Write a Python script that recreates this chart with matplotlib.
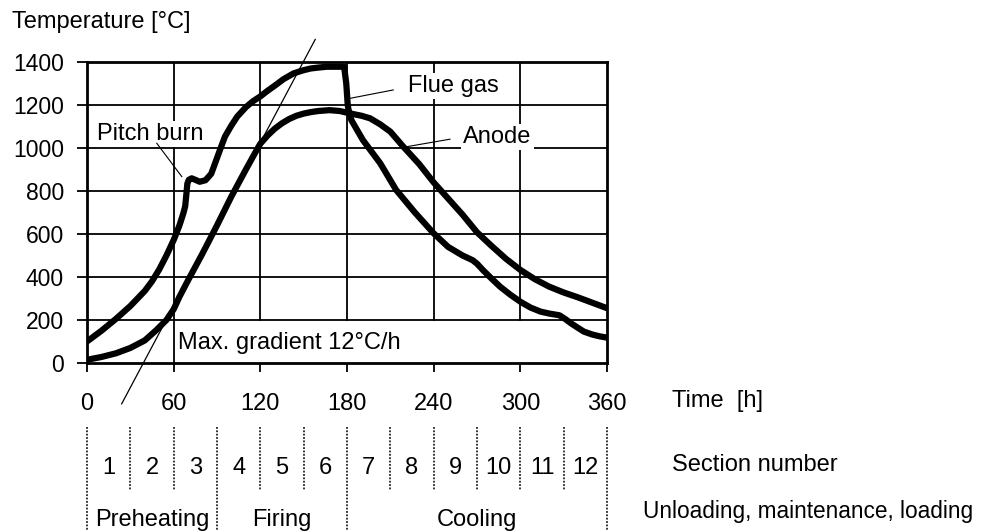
import matplotlib
matplotlib.use("Agg")
import matplotlib.pyplot as plt

plt.rcParams['font.family'] = ['Liberation Sans', 'DejaVu Sans']

# ---------------- data ----------------
flue_h = [0, 10, 20, 30, 40, 45, 50, 55, 60, 64, 66.7, 68, 69, 69.5, 70.5, 72.5, 75, 78, 82, 86,
          89, 92, 95.5, 100, 104, 110, 115, 120, 125, 130, 136, 143, 150, 155, 160, 166, 178, 179.5, 180.5, 181,
          183, 191, 203, 214, 227, 240, 250, 260, 267, 270, 274, 280, 286, 293, 300, 307,
          314, 320, 327, 331, 335, 340, 344, 350, 355, 360]
flue_T = [100, 150, 205, 265, 335, 380, 435, 500, 572, 640, 696, 730, 800, 835, 852, 859, 852, 843, 850, 880,
          935, 990, 1053, 1105, 1146, 1190, 1218, 1240, 1266, 1290, 1320, 1347, 1362, 1370, 1374, 1378, 1378, 1300, 1200, 1180,
          1130, 1037, 929, 805, 700, 603, 540, 500, 478, 462, 433, 393, 355, 318, 285, 258,
          239, 230, 222, 205, 185, 163, 146, 132, 124, 118]

anode_h = [0, 10, 20, 30, 40, 48, 55, 60, 64, 70, 80, 90, 100, 110, 117.5, 120, 125, 130, 135, 140, 145, 150,
           155, 160, 168, 175, 182, 190, 196, 203, 210, 219, 230, 240, 250, 260, 270, 280, 290,
           300, 310, 320, 330, 340, 350, 360]
anode_T = [15, 28, 45, 70, 105, 153, 200, 250, 308, 385, 510, 640, 775, 900, 991, 1020, 1058, 1090, 1115, 1135, 1150, 1160,
           1167, 1172, 1176, 1172, 1161, 1150, 1138, 1110, 1076, 1006, 925, 840, 765, 690, 608, 545, 485,
           433, 390, 355, 328, 305, 280, 255]

gradient_h = [24, 158]
gradient_T = [-190, 1505]

x_ticks = [0, 60, 120, 180, 240, 300, 360]
y_ticks = [0, 200, 400, 600, 800, 1000, 1200, 1400]

section_bounds = [0, 30, 60, 90, 120, 150, 180, 210, 240, 270, 300, 330, 360]
section_labels = ['1', '2', '3', '4', '5', '6', '7', '8', '9', '10', '11', '12']
phase_bounds = [0, 90, 180, 360]
phase_labels = ['Preheating', 'Firing', 'Cooling']

# annotations: text position and leader line ends (h, T)
ann_labels = ['Pitch burn', 'Flue gas', 'Anode']
ann_text_h = [6.7, 222.5, 260.5]
ann_text_T = [1037, 1262, 1025]
ann_lead_h0 = [48.3, 182.1, 221.3]
ann_lead_T0 = [1022, 1231, 1006]
ann_lead_h1 = [65.6, 212.0, 251.3]
ann_lead_T1 = [867, 1270, 1041]

gradient_label = 'Max. gradient 12°C/h'
gradient_label_h = 63.2
gradient_label_T = 64

# ---------------- figure ----------------
W, H = 981, 531
fig = plt.figure(figsize=(W / 100, H / 100), dpi=100)
fig.patch.set_facecolor('white')

def fx(x):
    return x / W

def fy(y):
    return 1 - y / H

L, R, T, B = 87, 607, 62, 363
ax = fig.add_axes([fx(L), fy(B), (R - L) / W, (B - T) / H])
ax.set_xlim(0, 360)
ax.set_ylim(0, 1400)

grid_lw = 1.3
for yv in y_ticks[1:-1]:
    ax.axhline(yv, color='black', lw=grid_lw, zorder=1)
for xv in x_ticks[1:-1]:
    ymin = 0 if xv == 60 else 200 / 1400
    ax.axvline(xv, ymin=ymin, ymax=1, color='black', lw=grid_lw, zorder=1)

for s in ax.spines.values():
    s.set_linewidth(2.0)

ax.set_xticks(x_ticks)
ax.set_xticklabels([str(v) for v in x_ticks], fontsize=17)
ax.set_yticks(y_ticks)
ax.set_yticklabels([str(v) for v in y_ticks], fontsize=16.5)
ax.tick_params(axis='x', direction='out', length=6.3, width=grid_lw, pad=15)
ax.tick_params(axis='y', direction='out', length=7, width=grid_lw, pad=9.5)

ax.plot(flue_h, flue_T, color='black', lw=4.5, solid_joinstyle='round', solid_capstyle='round', zorder=5)
ax.plot(anode_h, anode_T, color='black', lw=4.5, solid_joinstyle='round', solid_capstyle='round', zorder=5)

ax.plot(gradient_h, gradient_T, color='black', lw=0.9, clip_on=False, zorder=4)

for lab, th, tT, h0, T0, h1, T1 in zip(ann_labels, ann_text_h, ann_text_T,
                                         ann_lead_h0, ann_lead_T0, ann_lead_h1, ann_lead_T1):
    ax.text(th, tT, lab, fontsize=17, ha='left', va='baseline', zorder=3,
            bbox=dict(facecolor='white', edgecolor='none', pad=1.5))
    ax.plot([h0, h1], [T0, T1], color='black', lw=0.8, zorder=4)

ax.text(gradient_label_h, gradient_label_T, gradient_label, fontsize=17, ha='left', va='baseline', zorder=3)

fig.text(fx(12), fy(28.3), 'Temperature [°C]', fontsize=17, ha='left', va='baseline')

# ---------------- bottom section strip ----------------
ax2 = fig.add_axes([fx(L), 0, (R - L) / W, 110 / H])
ax2.set_xlim(0, 360)
ax2.set_ylim(531, 421)
ax2.axis('off')
for b in section_bounds:
    long_line = b in phase_bounds
    ax2.plot([b, b], [427, 531 if long_line else 490], color='black', lw=1.1,
             linestyle=(0, (1.2, 1.0)), clip_on=False)
for i, lab in enumerate(section_labels):
    mid = (section_bounds[i] + section_bounds[i + 1]) / 2
    ax2.text(mid, 474, lab, fontsize=17, ha='center', va='baseline')
for i, lab in enumerate(phase_labels):
    mid = (phase_bounds[i] + phase_bounds[i + 1]) / 2
    ax2.text(mid, 526, lab, fontsize=17, ha='center', va='baseline')

fig.text(fx(672), fy(406.7), 'Time  [h]', fontsize=17, ha='left', va='baseline')
fig.text(fx(672), fy(471), 'Section number', fontsize=17, ha='left', va='baseline')
fig.text(fx(643), fy(518), 'Unloading, maintenance, loading', fontsize=16.3, ha='left', va='baseline')

fig.savefig('out.png', dpi=100, facecolor='white')
